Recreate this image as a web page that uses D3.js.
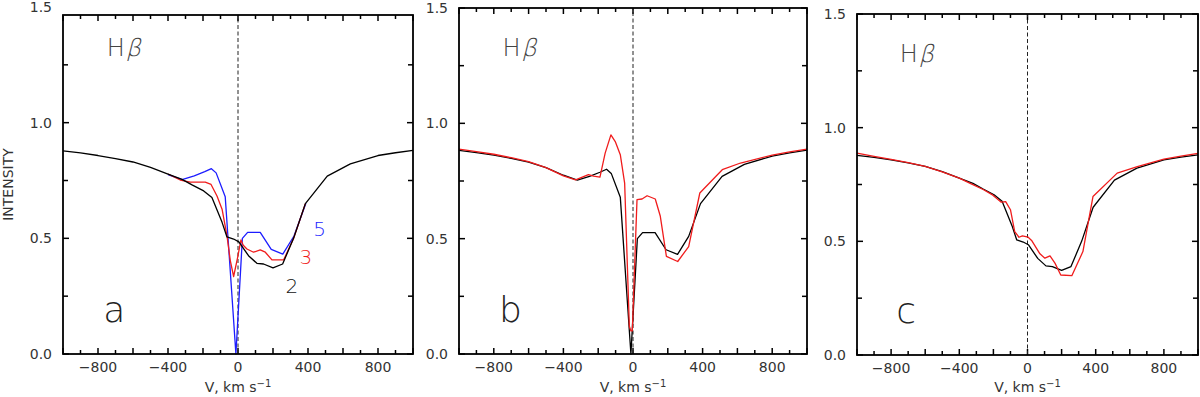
<!DOCTYPE html>
<html>
<head>
<meta charset="utf-8">
<script src="https://cdn.jsdelivr.net/npm/d3@7"></script>
<style>
  body { margin: 0; background: #fff; }
  text { font-family: "DejaVu Sans", sans-serif; }
</style>
</head>
<body>
<div id="container"></div>
<script>
let w = 1200;
let h = 397;

// profiles as [velocity km/s, intensity]
// model 2 (black in a and c)
let model2 = [[-1000,0.878],[-900,0.869],[-800,0.858],[-700,0.845],[-600,0.830],[-500,0.807],[-400,0.778],
  [-320,0.755],[-260,0.730],[-196,0.705],[-149,0.676],[-91,0.569],[-63,0.506],[-25,0.497],[5,0.485],
  [60,0.425],[108,0.392],[146,0.389],[200,0.372],[255,0.389],[318,0.501],[385,0.650],[510,0.769],
  [642,0.822],[800,0.858],[900,0.870],[1000,0.880]];
// model 3 (red in a)
let model3 = [[-400,0.778],[-330,0.752],[-273,0.743],[-187,0.743],[-154,0.733],[-120,0.683],[-91,0.626],
  [-63,0.511],[-44,0.404],[-25,0.335],[-2,0.418],[17,0.493],[30,0.470],[51,0.454],[89,0.440],[127,0.450],
  [156,0.440],[194,0.407],[261,0.407],[318,0.500],[385,0.650]];
// model 5 (blue in a, black in b)
let model5 = [[-1000,0.883],[-900,0.873],[-800,0.862],[-700,0.848],[-600,0.832],[-500,0.808],[-400,0.775],
  [-320,0.754],[-250,0.770],[-190,0.788],[-152,0.801],[-125,0.783],[-73,0.680],[-12,0.0],[25,0.500],
  [55,0.526],[127,0.526],[190,0.452],[256,0.432],[320,0.510],[388,0.652],[512,0.770],[640,0.822],
  [800,0.858],[900,0.872],[1000,0.884]];
// red in b
let redB = [[-1000,0.888],[-900,0.877],[-800,0.866],[-700,0.851],[-600,0.834],[-500,0.808],[-400,0.772],
  [-330,0.755],[-256,0.778],[-227,0.771],[-190,0.767],[-160,0.871],[-127,0.950],[-102,0.921],[-73,0.864],
  [-48,0.741],[-21,0.120],[-12,0.100],[-4,0.100],[23,0.669],[52,0.672],[81,0.686],[128,0.672],
  [157,0.597],[192,0.423],[257,0.401],[320,0.466],[384,0.698],[513,0.799],[618,0.828],[800,0.862],
  [900,0.876],[1000,0.888]];
// red in c
let redC = [[-1000,0.888],[-900,0.874],[-800,0.861],[-700,0.846],[-600,0.830],[-500,0.806],[-400,0.778],
  [-330,0.753],[-260,0.728],[-203,0.703],[-154,0.672],[-128,0.675],[-100,0.639],[-75,0.543],[-50,0.518],
  [-30,0.524],[4,0.518],[24,0.504],[73,0.445],[102,0.426],[132,0.436],[161,0.404],[195,0.352],
  [260,0.349],[325,0.455],[384,0.697],[526,0.800],[644,0.829],[800,0.862],[900,0.875],[1000,0.887]];

let xTicks = d3.range(-1000, 1001, 100);
let xLabels = [-800, -400, 0, 400, 800];
let yTicks = [0, 0.25, 0.5, 0.75, 1.0, 1.25, 1.5];
let yLabels = [0, 0.5, 1.0, 1.5];

let viz = d3.select("#container")
  .append("svg")
    .attr("width", w)
    .attr("height", h)
;

let blue = "#1c1cff";
let red = "#f01c1c";

let panels = [
  { letter: "a", x0: 63, x1: 413, y0: 354, yTop: 7, frameTop: 15,
    lines: [
      { data: model5.filter(d => d[0] >= -400 && d[0] <= 400), color: blue },
      { data: model3, color: red },
      { data: model2, color: "#000" }
    ],
    notes: [
      { text: "5", v: 430, i: 0.511, color: blue },
      { text: "3", v: 351, i: 0.391, color: red },
      { text: "2", v: 271, i: 0.262, color: "#111" }
    ],
    ytitle: true },
  { letter: "b", x0: 459, x1: 807, y0: 354, yTop: 8, frameTop: 8,
    lines: [
      { data: model5, color: "#000" },
      { data: redB, color: red }
    ],
    notes: [] },
  { letter: "c", x0: 857, x1: 1198, y0: 355, yTop: 14, frameTop: 14,
    lines: [
      { data: model2, color: "#000" },
      { data: redC, color: red }
    ],
    notes: [] }
];

panels.forEach(drawPanel);

function drawPanel(p) {
  let xScale = d3.scaleLinear().domain([-1000, 1000]).range([p.x0, p.x1]);
  let yScale = d3.scaleLinear().domain([0, 1.5]).range([p.y0, p.yTop]);
  let g = viz.append("g");

  let tickLen = d => (d % 200 === 0 ? 6 : 4);
  let yLen = d => (Math.abs(d * 2 - Math.round(d * 2)) < 1e-6 ? 6 : 5);
  let inFrame = yTicks.filter(d => yScale(d) >= p.frameTop - 0.5);

  // x ticks, bottom and top, pointing inward
  let tickG = g.append("g").attr("stroke", "#000").attr("stroke-width", 1.5);
  tickG.selectAll(".xb").data(xTicks).join("line").attr("class", "xb")
    .attr("x1", d => xScale(d)).attr("x2", d => xScale(d))
    .attr("y1", p.y0).attr("y2", d => p.y0 - tickLen(d));
  tickG.selectAll(".xt").data(xTicks).join("line").attr("class", "xt")
    .attr("x1", d => xScale(d)).attr("x2", d => xScale(d))
    .attr("y1", p.frameTop).attr("y2", d => p.frameTop + tickLen(d));
  // y ticks, left and right
  tickG.selectAll(".yl").data(inFrame).join("line").attr("class", "yl")
    .attr("y1", d => yScale(d)).attr("y2", d => yScale(d))
    .attr("x1", p.x0).attr("x2", d => p.x0 + yLen(d));
  tickG.selectAll(".yr").data(inFrame).join("line").attr("class", "yr")
    .attr("y1", d => yScale(d)).attr("y2", d => yScale(d))
    .attr("x1", p.x1).attr("x2", d => p.x1 - yLen(d));

  // tick labels
  g.selectAll(".xl").data(xLabels).join("text").attr("class", "xl")
    .attr("x", d => xScale(d)).attr("y", p.y0 + 18)
    .attr("text-anchor", "middle").attr("font-size", 14).attr("fill", "#333")
    .text(d => d3.format("d")(d));
  g.selectAll(".yll").data(yLabels).join("text").attr("class", "yll")
    .attr("x", p.x0 - 11).attr("y", d => yScale(d)).attr("dy", "0.36em")
    .attr("text-anchor", "end").attr("font-size", 14).attr("fill", "#333")
    .text(d => d3.format(".1f")(d));

  // dashed line at zero velocity
  g.append("line")
    .attr("x1", xScale(0)).attr("x2", xScale(0))
    .attr("y1", p.y0).attr("y2", p.frameTop)
    .attr("stroke", "#222").attr("stroke-width", 1)
    .attr("stroke-dasharray", "4,2.5");

  // profiles
  let lineMaker = d3.line().x(d => xScale(d[0])).y(d => yScale(d[1]));
  p.lines.forEach(function(l) {
    g.append("path")
      .attr("d", lineMaker(l.data))
      .attr("fill", "none")
      .attr("stroke", l.color)
      .attr("stroke-width", 1.3)
      .attr("stroke-linejoin", "round");
  });

  // frame
  g.append("rect")
    .attr("x", p.x0).attr("y", p.frameTop)
    .attr("width", p.x1 - p.x0).attr("height", p.y0 - p.frameTop)
    .attr("fill", "none").attr("stroke", "#000").attr("stroke-width", 1.8);

  // H beta (beta slanted by hand so it stays thin)
  let hx = xScale(-750), hy = yScale(1.29);
  g.append("text")
    .attr("x", hx).attr("y", hy)
    .attr("font-size", 24).attr("fill", "#444").style("font-weight", 200)
    .text("H");
  g.append("text")
    .attr("transform", "translate(" + (hx + 19) + "," + hy + ") skewX(-14)")
    .attr("font-size", 24).attr("fill", "#444").style("font-weight", 200)
    .text("β");

  // panel letter
  g.append("text")
    .attr("x", xScale(-770)).attr("y", yScale(0.14))
    .attr("font-size", 36).attr("fill", "#222").style("font-weight", 200)
    .text(p.letter);

  // curve numbers
  p.notes.forEach(function(n) {
    g.append("text")
      .attr("x", xScale(n.v)).attr("y", yScale(n.i))
      .attr("font-size", 20).attr("fill", n.color).style("font-weight", 200)
      .text(n.text);
  });

  // x title
  let xt = g.append("text")
    .attr("x", (p.x0 + p.x1) / 2).attr("y", 392)
    .attr("text-anchor", "middle").attr("font-size", 14).attr("fill", "#333");
  xt.append("tspan").text("V, km s");
  xt.append("tspan").attr("font-size", 10).attr("dy", -5).text("−1");

  if (p.ytitle) {
    g.append("text")
      .attr("transform", "translate(13," + ((p.y0 + p.frameTop) / 2) + ") rotate(-90)")
      .attr("text-anchor", "middle").attr("font-size", 14).attr("fill", "#333")
      .text("INTENSITY");
  }
}
</script>
</body>
</html>
